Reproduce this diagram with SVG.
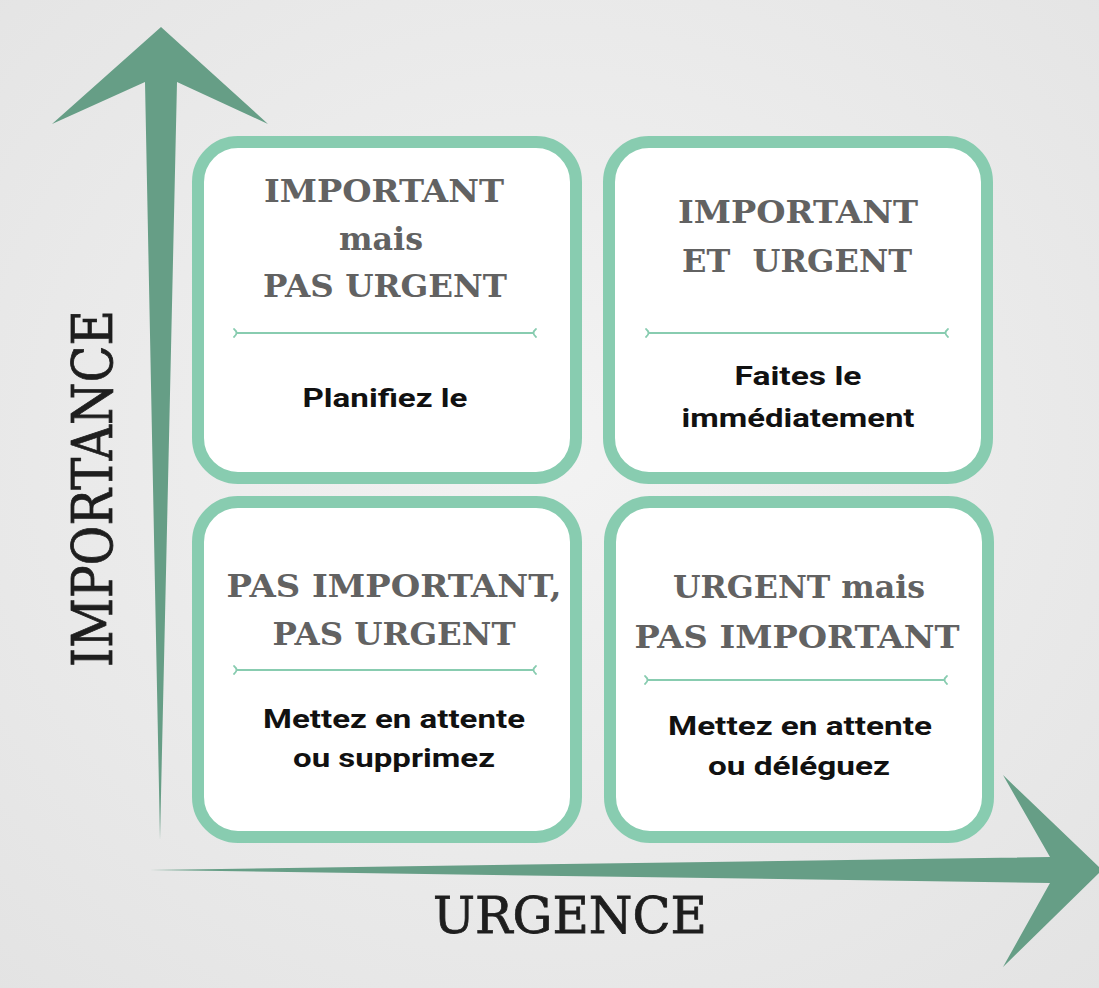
<svg xmlns="http://www.w3.org/2000/svg" width="1099" height="988" viewBox="0 0 1099 988">
<defs>
<radialGradient id="bg" cx="0.5" cy="0.45" r="0.75">
<stop offset="0" stop-color="#f3f3f3"/>
<stop offset="1" stop-color="#e3e3e3"/>
</radialGradient>
<style>
.box{fill:#ffffff;stroke:#88ccb0;stroke-width:12}
.div{fill:none;stroke:#88ccb0;stroke-width:1.8;stroke-linecap:round}
.title{font-family:"DejaVu Serif","Liberation Serif",serif;font-weight:bold;font-size:31px;fill:#626262;text-anchor:middle}
.body{font-family:Roboto,"Liberation Sans",sans-serif;font-weight:bold;font-size:25px;fill:#111111;text-anchor:middle}
.axis{font-family:"DejaVu Serif","Liberation Serif",serif;fill:#1e1e1e;stroke:#1e1e1e;stroke-width:0.8}
.arrow{fill:#669e86}
</style>
</defs>
<rect x="0" y="0" width="1099" height="988" fill="url(#bg)"/>

<g id="connectors">
<path id="axis-importance" class="arrow" d="M161,27 L268,124 L177,82 L160,840 L145,82 L52,124 Z"/>
<path id="axis-urgence" class="arrow" d="M1102,870 L1003,967 L1050,883 L150,870 L1050,857 L1003,775 Z"/>
</g>

<g id="label-importance">
<text class="axis" transform="translate(112,667) rotate(-90)" font-size="56" textLength="357" lengthAdjust="spacingAndGlyphs">IMPORTANCE</text>
</g>
<g id="label-urgence">
<text class="axis" x="433" y="933" font-size="50" textLength="274" lengthAdjust="spacingAndGlyphs">URGENCE</text>
</g>

<g id="node-tl">
<rect class="box" x="198" y="142" width="378" height="336" rx="40"/>
<text class="title" x="384" y="202" textLength="240" lengthAdjust="spacingAndGlyphs">IMPORTANT</text>
<text class="title" x="381" y="250" textLength="84" lengthAdjust="spacingAndGlyphs">mais</text>
<text class="title" x="385" y="297" textLength="244" lengthAdjust="spacingAndGlyphs">PAS URGENT</text>
<path class="div" d="M234,329 q5,4 0,8 M237,333 L533,333 M536,329 q-5,4 0,8"/>
<text class="body" x="385" y="407" textLength="165" lengthAdjust="spacingAndGlyphs">Planifiez le</text>
</g>

<g id="node-tr">
<rect class="box" x="609" y="142" width="378" height="336" rx="40"/>
<text class="title" x="798" y="223" textLength="240" lengthAdjust="spacingAndGlyphs">IMPORTANT</text>
<text class="title" x="797" y="272" textLength="230" lengthAdjust="spacingAndGlyphs" xml:space="preserve">ET  URGENT</text>
<path class="div" d="M646,329 q5,4 0,8 M649,333 L945,333 M948,329 q-5,4 0,8"/>
<text class="body" x="798" y="385" textLength="127" lengthAdjust="spacingAndGlyphs">Faites le</text>
<text class="body" x="798" y="427" textLength="233" lengthAdjust="spacingAndGlyphs">immédiatement</text>
</g>

<g id="node-bl">
<rect class="box" x="198" y="502" width="378" height="335" rx="40"/>
<text class="title" x="394" y="597" textLength="335" lengthAdjust="spacingAndGlyphs">PAS IMPORTANT,</text>
<text class="title" x="394" y="645" textLength="243" lengthAdjust="spacingAndGlyphs">PAS URGENT</text>
<path class="div" d="M234,666 q5,4 0,8 M237,670 L533,670 M536,666 q-5,4 0,8"/>
<text class="body" x="394" y="728" textLength="262" lengthAdjust="spacingAndGlyphs">Mettez en attente</text>
<text class="body" x="394" y="767" textLength="202" lengthAdjust="spacingAndGlyphs">ou supprimez</text>
</g>

<g id="node-br">
<rect class="box" x="610" y="502" width="378" height="335" rx="40"/>
<text class="title" x="799" y="598" textLength="252" lengthAdjust="spacingAndGlyphs">URGENT mais</text>
<text class="title" x="797" y="648" textLength="325" lengthAdjust="spacingAndGlyphs">PAS IMPORTANT</text>
<path class="div" d="M645,676 q5,4 0,8 M648,680 L944,680 M947,676 q-5,4 0,8"/>
<text class="body" x="800" y="735" textLength="264" lengthAdjust="spacingAndGlyphs">Mettez en attente</text>
<text class="body" x="799" y="775" textLength="182" lengthAdjust="spacingAndGlyphs">ou déléguez</text>
</g>
</svg>
